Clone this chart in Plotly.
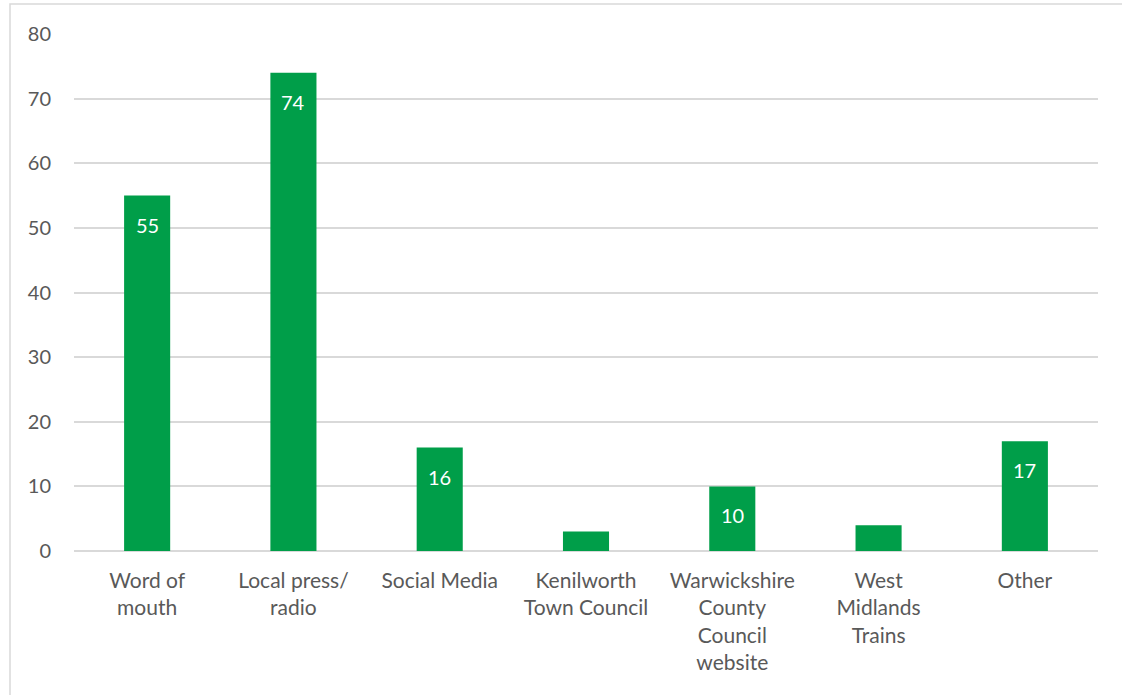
import plotly.graph_objects as go

# Survey responses: how people heard about the proposal
categories = [
    "Word of<br>mouth",
    "Local press/<br>radio",
    "Social Media",
    "Kenilworth<br>Town Council",
    "Warwickshire<br>County<br>Council<br>website",
    "West<br>Midlands<br>Trains",
    "Other",
]
responses = [55, 74, 16, 3, 10, 4, 17]
y_ticks = [0, 10, 20, 30, 40, 50, 60, 70, 80]

GREEN = "#009E49"
GRID = "#D9D9D9"
TEXT = "#595959"
FONT = "Lato, 'Open Sans', sans-serif"

W, H = 1122, 695
ML, MR, MT, MB = 74, 24, 34, 144

fig = go.Figure(
    go.Bar(
        x=categories,
        y=responses,
        marker=dict(color=GREEN, line=dict(width=0)),
        hoverinfo="x+y",
    )
)

# Value labels inside the taller bars, near the top
for cat, val in zip(categories, responses):
    if val >= 10:
        fig.add_annotation(
            x=cat, y=val, text=str(val), showarrow=False,
            yanchor="top", yshift=-15,
            font=dict(color="white", size=20, family=FONT),
        )

# Chart-area border (top and left edges visible)
pw, ph = W - ML - MR, H - MT - MB
fig.add_shape(
    type="rect", xref="paper", yref="paper", layer="below",
    x0=(10 - ML) / pw, x1=(W + 10 - ML) / pw,
    y0=-(H + 10 - MT - ph) / ph, y1=(H - MB - 4) / ph,
    line=dict(color=GRID, width=1.5), fillcolor="rgba(0,0,0,0)",
)

fig.update_layout(
    width=W, height=H,
    margin=dict(l=ML, r=MR, t=MT, b=MB, pad=0),
    plot_bgcolor="white", paper_bgcolor="white",
    bargap=0.685,
    showlegend=False,
    font=dict(family=FONT, color=TEXT, size=20),
    xaxis=dict(
        showgrid=False, showline=False, zeroline=False,
        ticks="", tickfont=dict(size=21, color=TEXT),
        ticklabelstandoff=15,
        fixedrange=True,
    ),
    yaxis=dict(
        range=[0, 80], tickvals=y_ticks,
        showgrid=True, gridcolor=GRID, gridwidth=1.5,
        zeroline=True, zerolinecolor=GRID, zerolinewidth=1.5,
        showline=False, ticks="", ticklabelstandoff=22,
        tickfont=dict(size=20, color=TEXT),
        fixedrange=True,
    ),
)

fig.write_html("out.html")
